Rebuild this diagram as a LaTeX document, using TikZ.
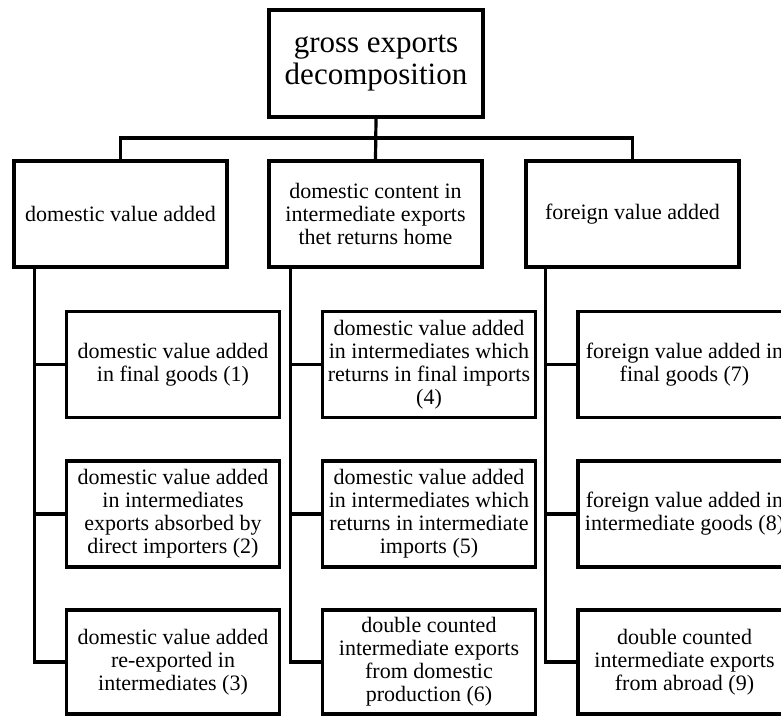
\documentclass[tikz,border=0pt]{standalone}
\usepackage{fontspec}
\setmainfont{Liberation Serif}
\begin{document}
\begin{tikzpicture}[x=1pt,y=-1pt, line width=3.2pt, line join=miter,
  box/.style={draw, rectangle, align=center, inner sep=0pt, minimum width=213pt, minimum height=106pt, font=\fontsize{22}{23}\selectfont},
  bigbox/.style={box, minimum height=107pt, minimum width=214pt, font=\fontsize{31}{32}\selectfont}]
\useasboundingbox (0,0) rectangle (781,716);
% top
\node[bigbox] (top) at (376,63.5) {gross exports\\decomposition};
% level 1
\node[box] (a) at (120.5,214) {domestic value added};
\node[box] (b) at (375.5,214) {domestic content in\\intermediate exports\\thet returns home};
\node[box] (c) at (632.5,214) {foreign value added};
% level 2 left
\node[box] (a1) at (173,364.5) {domestic value added\\in final goods (1)};
\node[box] (a2) at (173,514) {domestic value added\\in intermediates\\exports absorbed by\\direct importers (2)};
\node[box, minimum height=104pt] (a3) at (173,662) {domestic value added\\re-exported in\\intermediates (3)};
% level 2 middle
\node[box] (b1) at (429,364.5) {domestic value added\\in intermediates which\\returns in final imports\\(4)};
\node[box] (b2) at (429,514) {domestic value added\\in intermediates which\\returns in intermediate\\imports (5)};
\node[box, minimum height=104pt] (b3) at (429,662) {double counted\\intermediate exports\\from domestic\\production (6)};
% level 2 right
\node[box] (c1) at (684.5,364.5) {foreign value added in\\final goods (7)};
\node[box] (c2) at (684.5,514) {foreign value added in\\intermediate goods (8)};
\node[box, minimum height=104pt] (c3) at (684.5,662) {double counted\\intermediate exports\\from abroad (9)};
% bus
\coordinate (bus) at (376,138);
\draw (top.south) -- (b.north);
\draw (a.north) -- (a.north |- bus) -- (c.north |- bus) -- (c.north);
% trunks
\coordinate (ta) at ([xshift=22pt]a.south west);
\coordinate (tb) at ([xshift=23pt]b.south west);
\coordinate (tc) at ([xshift=21pt]c.south west);
\draw (ta) -- (ta |- a3.west) -- (a3.west);
\draw (a1.west) -- (a1.west -| ta);
\draw (a2.west) -- (a2.west -| ta);
\draw (tb) -- (tb |- b3.west) -- (b3.west);
\draw (b1.west) -- (b1.west -| tb);
\draw (b2.west) -- (b2.west -| tb);
\draw (tc) -- (tc |- c3.west) -- (c3.west);
\draw (c1.west) -- (c1.west -| tc);
\draw (c2.west) -- (c2.west -| tc);
\end{tikzpicture}
\end{document}
